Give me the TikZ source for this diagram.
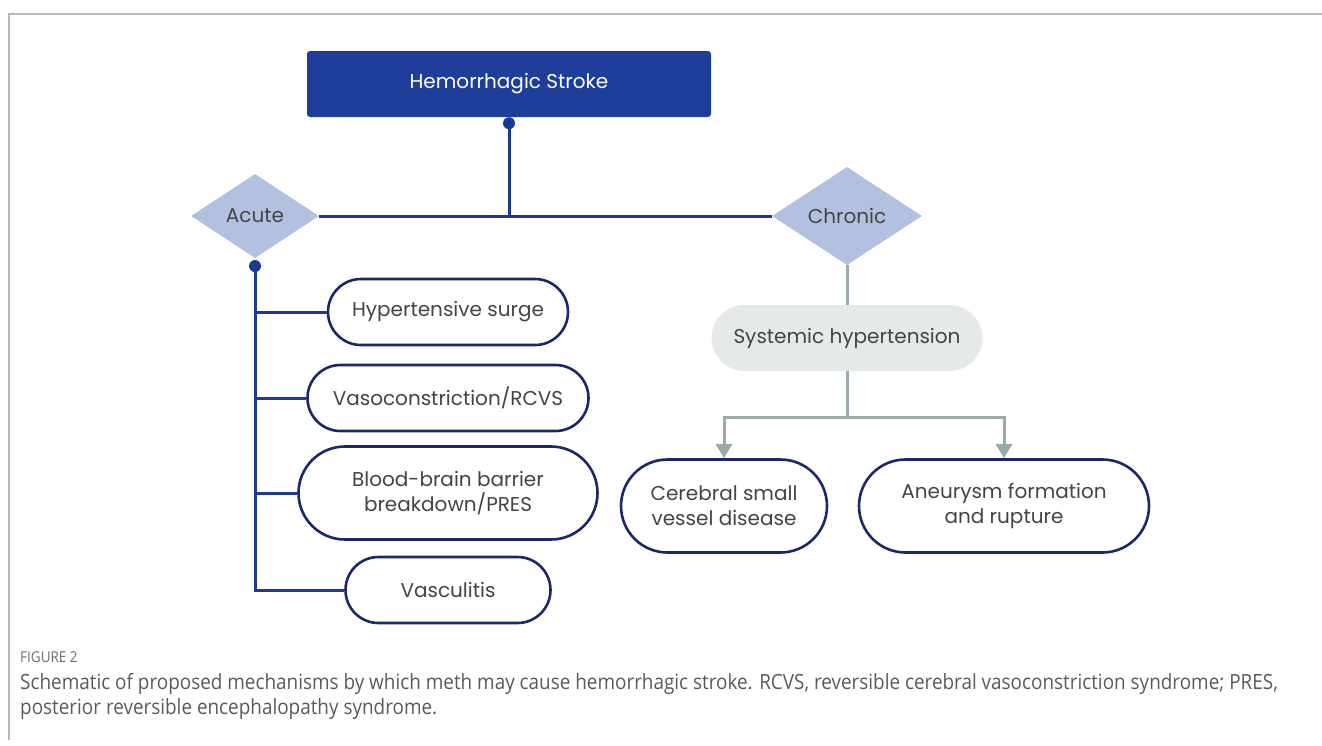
\documentclass[tikz,border=0pt]{standalone}
\usepackage{fontspec}
\setmainfont{Poppins}
\newfontfamily\capfont[FakeStretch=0.9]{Open Sans}
\usetikzlibrary{shapes.geometric,shapes.misc,arrows.meta}
\definecolor{strokeblue}{HTML}{1E3E9A}
\definecolor{linkblue}{HTML}{1B3A98}
\definecolor{diamondfill}{HTML}{B3C1E0}
\definecolor{pillborder}{HTML}{1C276B}
\definecolor{sysfill}{HTML}{E5E9E9}
\definecolor{chronline}{HTML}{9BABA7}
\definecolor{textgray}{HTML}{444444}
\definecolor{framegray}{HTML}{B8B8B8}
\definecolor{capgray}{HTML}{5A5A5A}

\begin{document}
\begin{tikzpicture}[x=1pt, y=-1pt,
    every node/.style={font=\fontsize{20}{25}\selectfont, text=textgray},
    headbox/.style={fill=strokeblue, rounded corners=3pt, minimum width=404pt, minimum height=66pt, text=white},
    phase/.style={diamond, fill=diamondfill, aspect=1.5, inner sep=0pt},
    cause/.style={rounded rectangle, draw=pillborder, line width=2.6pt, fill=white, align=center, inner sep=0pt},
    joint/.style={circle, fill=linkblue, inner sep=0pt, minimum size=12pt},
    acutelink/.style={draw=linkblue, line width=3pt},
    chroniclink/.style={draw=chronline, line width=3pt},
    capnote/.style={font=\capfont\fontsize{21}{25}\selectfont, text=capgray, anchor=north west, align=left, inner sep=0pt},
]
    \useasboundingbox (0,0) rectangle (1322,745);

    % Cadre
    \draw[framegray, line width=2pt] (1322,14) -- (9,14) -- (9,740);

    % Titre
    \node[headbox] (stroke) at (509,84) {Hemorrhagic Stroke};

    % Phases
    \node[phase, minimum width=128pt, minimum height=84pt] (acute) at (255,216) {Acute};
    \node[phase, minimum width=150pt, minimum height=98pt] (chronic) at (847,216) {Chronic};

    % Mecanismes aigus
    \node[cause, minimum width=240pt, minimum height=66pt] (hyper) at (448,312) {Hypertensive surge};
    \node[cause, minimum width=281pt, minimum height=66pt] (vaso) at (448,398) {Vasoconstriction/RCVS};
    \node[cause, minimum width=299pt, minimum height=93pt] (bbb) at (448,493) {Blood-brain barrier\\breakdown/PRES};
    \node[cause, minimum width=205pt, minimum height=66pt] (vasc) at (448,590) {Vasculitis};

    % Mecanismes chroniques
    \node[rounded rectangle, fill=sysfill, inner sep=0pt, minimum width=271pt, minimum height=66pt] (sys) at (847,338) {Systemic hypertension};
    \node[cause, minimum width=206pt, minimum height=93pt] (csvd) at (724,506) {Cerebral small\\vessel disease};
    \node[cause, minimum width=290pt, minimum height=93pt] (aneu) at (1004,506) {Aneurysm formation\\and rupture};

    % Points de jonction
    \node[joint] (dotS) at ([yshift=-6pt]stroke.south) {};
    \node[joint] (dotA) at (255,266) {};

    % Relations
    \draw[acutelink] (dotS.center) -- (dotS |- acute.east);
    \draw[acutelink] (acute.east) -- (chronic.west);
    \draw[acutelink] (dotA.center) |- (hyper.west);
    \draw[acutelink] (dotA.center) |- (vaso.west);
    \draw[acutelink] (dotA.center) |- (bbb.west);
    \draw[acutelink] (dotA.center) |- (vasc.west);

    \draw[chroniclink] (chronic.south) -- (sys.north);
    \draw[chroniclink] (sys.south) -- ++(0,46) coordinate (fork);
    \draw[chroniclink, -{Triangle[width=16pt,length=14pt]}] (fork) -| (csvd.north);
    \draw[chroniclink, -{Triangle[width=16pt,length=14pt]}] (fork) -| (aneu.north);

    % Legende
    \node[capnote, font=\capfont\fontsize{15}{17}\selectfont, text=capgray!90] (figlabel) at (20,651) {FIGURE 2};
    \node[capnote] (caption) at (20,673) {Schematic of proposed mechanisms by which meth may cause hemorrhagic stroke. RCVS, reversible cerebral vasoconstriction syndrome; PRES,\\posterior reversible encephalopathy syndrome.};
\end{tikzpicture}
\end{document}
